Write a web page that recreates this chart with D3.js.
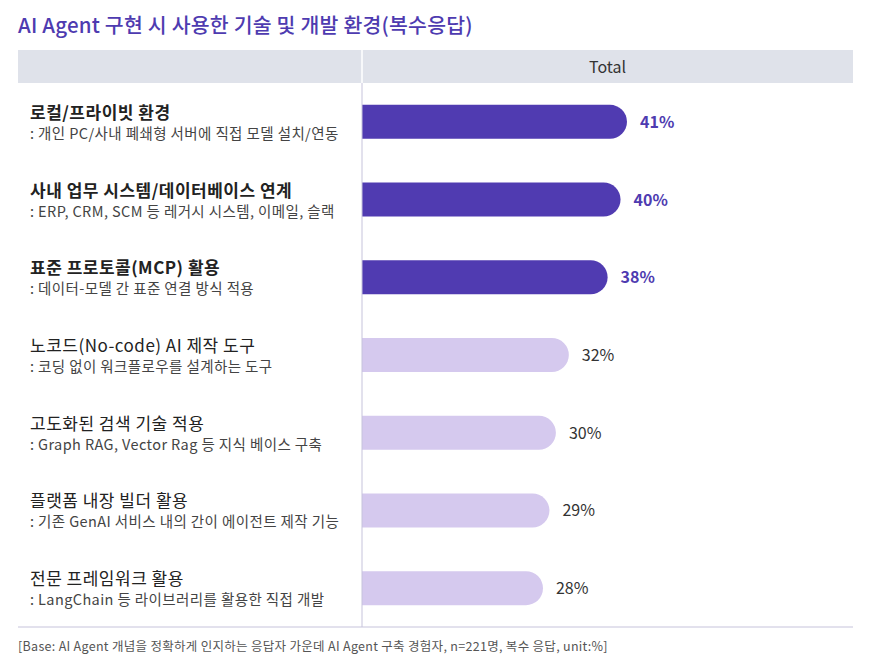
<!DOCTYPE html>
<html>
<head>
<meta charset="utf-8">
<script src="https://cdn.jsdelivr.net/npm/d3@7"></script>
<style>
  body { margin: 0; background: #fff; }
</style>
</head>
<body>
<div id="chart"></div>
<script>
// data
const categories = [
  "로컬/프라이빗 환경",
  "사내 업무 시스템/데이터베이스 연계",
  "표준 프로토콜(MCP) 활용",
  "노코드(No-code) AI 제작 도구",
  "고도화된 검색 기술 적용",
  "플랫폼 내장 빌더 활용",
  "전문 프레임워크 활용"
];
const descriptions = [
  ": 개인 PC/사내 폐쇄형 서버에 직접 모델 설치/연동",
  ": ERP, CRM, SCM 등 레거시 시스템, 이메일, 슬랙",
  ": 데이터-모델 간 표준 연결 방식 적용",
  ": 코딩 없이 워크플로우를 설계하는 도구",
  ": Graph RAG, Vector Rag 등 지식 베이스 구축",
  ": 기존 GenAI 서비스 내의 간이 에이전트 제작 기능",
  ": LangChain 등 라이브러리를 활용한 직접 개발"
];
const values = [41, 40, 38, 32, 30, 29, 28];
const highlighted = [true, true, true, false, false, false, false];
const seriesName = "Total";
const title = "AI Agent 구현 시 사용한 기술 및 개발 환경(복수응답)";
const footnote = "[Base: AI Agent 개념을 정확하게 인지하는 응답자 가운데 AI Agent 구축 경험자, n=221명, 복수 응답, unit:%]";

const width = 883, height = 670;
const left = 18, right = 853, split = 362;
const headTop = 50, headBottom = 83, bodyBottom = 627;
const font = "'Noto Sans CJK KR', 'Noto Sans', sans-serif";

const dark = "#503bb1", light = "#d5c9ee", purpleText = "#4e3bb0";

const rows = categories.map((c, i) => ({ name: c, desc: descriptions[i], value: values[i], hi: highlighted[i] }));

const svg = d3.select("#chart").append("svg")
  .attr("width", width)
  .attr("height", height)
  .attr("font-family", font);

const y = d3.scaleBand()
  .domain(categories)
  .range([headBottom, bodyBottom]);

const x = d3.scaleLinear()
  .domain([0, 41])
  .range([0, 265]);

const barH = 34;

// title
svg.append("text")
  .attr("x", left)
  .attr("y", 33)
  .attr("fill", purpleText)
  .attr("font-size", 20.5)
  .attr("letter-spacing", 0.2)
  .attr("font-weight", 500)
  .text(title);

// header band
svg.append("rect")
  .attr("x", left).attr("y", headTop)
  .attr("width", right - left).attr("height", headBottom - headTop)
  .attr("fill", "#dfe2ea");
svg.append("line")
  .attr("x1", split).attr("x2", split)
  .attr("y1", headTop).attr("y2", headBottom)
  .attr("stroke", "#fff").attr("stroke-width", 1.5);
svg.append("text")
  .attr("x", (split + right) / 2)
  .attr("y", (headTop + headBottom) / 2 + 6)
  .attr("text-anchor", "middle")
  .attr("fill", "#333")
  .attr("font-size", 16)
  .text(seriesName);

// bars: flat at left, rounded at right
const r = barH / 2;
svg.append("g")
  .selectAll("path")
  .data(rows)
  .join("path")
  .attr("fill", d => d.hi ? dark : light)
  .attr("d", d => {
    const x0 = split, w = x(d.value);
    const yc = y(d.name) + y.bandwidth() / 2;
    const y0 = yc - r;
    return `M${x0},${y0}H${x0 + w - r}A${r},${r} 0 0 1 ${x0 + w - r},${y0 + barH}H${x0}Z`;
  });

// value labels
svg.append("g")
  .selectAll("text")
  .data(rows)
  .join("text")
  .attr("x", d => split + x(d.value) + 13)
  .attr("y", d => y(d.name) + y.bandwidth() / 2 + 6)
  .attr("fill", d => d.hi ? purpleText : "#333")
  .attr("font-weight", d => d.hi ? 700 : 400)
  .attr("font-size", 16)
  .text(d => d.value + "%");

// category labels
const lab = svg.append("g")
  .selectAll("g")
  .data(rows)
  .join("g")
  .attr("transform", d => `translate(30, ${y(d.name) + y.bandwidth() / 2})`);
lab.append("text")
  .attr("y", -3)
  .attr("fill", "#222")
  .attr("font-size", 17)
  .attr("letter-spacing", 0.5)
  .attr("font-weight", d => d.hi ? 700 : 400)
  .text(d => d.name);
lab.append("text")
  .attr("y", 17)
  .attr("fill", "#444")
  .attr("font-size", 14.5)
  .attr("letter-spacing", 0.4)
  .text(d => d.desc);

// divider lines
svg.append("line")
  .attr("x1", split).attr("x2", split)
  .attr("y1", headBottom).attr("y2", bodyBottom)
  .attr("stroke", "#c6c3db").attr("stroke-width", 1);
svg.append("line")
  .attr("x1", left).attr("x2", right)
  .attr("y1", bodyBottom).attr("y2", bodyBottom)
  .attr("stroke", "#c6c3db").attr("stroke-width", 1);

// footnote
svg.append("text")
  .attr("x", left)
  .attr("y", 651)
  .attr("fill", "#555")
  .attr("font-size", 12.5)
  .attr("letter-spacing", 0.3)
  .text(footnote);
</script>
</body>
</html>
